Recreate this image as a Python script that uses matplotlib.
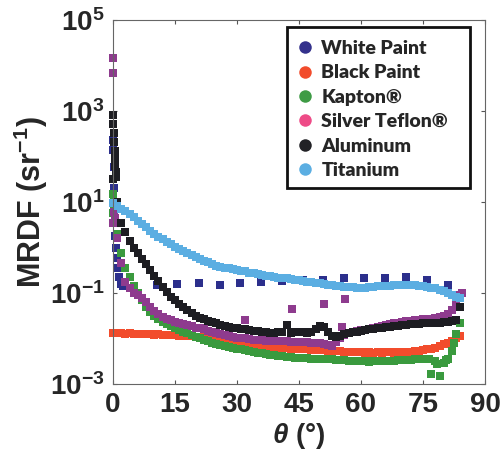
import matplotlib
matplotlib.use("Agg")
import matplotlib.pyplot as plt
from matplotlib.lines import Line2D
from matplotlib.patches import Rectangle

plt.rcParams["font.family"] = ["Liberation Sans", "DejaVu Sans"]
plt.rcParams["mathtext.fontset"] = "custom"
plt.rcParams["mathtext.rm"] = "Liberation Sans:bold"
plt.rcParams["mathtext.bf"] = "Liberation Sans:bold"
plt.rcParams["mathtext.it"] = "Liberation Sans:bold:italic"

# scan angles (deg) for the continuous measurements
THETA = list(range(85))

TITANIUM = [9.5, 8.3, 7.2, 6.3, 5.4, 4.6, 3.9, 3.3, 2.8, 2.3,
            2.0, 1.7, 1.5, 1.3, 1.17, 1.05, 0.93, 0.85, 0.76, 0.69,
            0.62, 0.56, 0.51, 0.47, 0.43, 0.40, 0.38, 0.36, 0.35, 0.34,
            0.32, 0.31, 0.30, 0.28, 0.27, 0.26, 0.25, 0.24, 0.234, 0.224,
            0.219, 0.214, 0.209, 0.20, 0.195, 0.19, 0.186, 0.178, 0.174, 0.166,
            0.162, 0.158, 0.151, 0.148, 0.145, 0.141, 0.138, 0.135, 0.135, 0.132,
            0.132, 0.132, 0.135, 0.138, 0.141, 0.141, 0.145, 0.145, 0.148, 0.148,
            0.151, 0.151, 0.151, 0.148, 0.145, 0.141, 0.138, 0.132, 0.126, 0.117,
            0.110, 0.100, 0.091, 0.083, 0.076]

BLACK_PAINT = [0.0132, 0.0129, 0.0132, 0.0126, 0.0129, 0.0126, 0.0126, 0.0123, 0.0126, 0.0123,
               0.0120, 0.0123, 0.0120, 0.0117, 0.0120, 0.0117, 0.0115, 0.0115, 0.0112, 0.0112,
               0.0110, 0.0107, 0.0105, 0.0100, 0.0095, 0.0093, 0.0089, 0.0087, 0.0083, 0.0081,
               0.0079, 0.0078, 0.0076, 0.0074, 0.0072, 0.0071, 0.0069, 0.0068, 0.0066, 0.0065,
               0.0063, 0.0063, 0.0062, 0.0060, 0.0060, 0.0059, 0.0058, 0.0058, 0.0056, 0.0056,
               0.0055, 0.0055, 0.0054, 0.0054, 0.0052, 0.0052, 0.0051, 0.0051, 0.0050, 0.0050,
               0.0050, 0.0049, 0.0050, 0.0049, 0.0050, 0.0049, 0.0050, 0.0050, 0.0049, 0.0050,
               0.0050, 0.0051, 0.0051, 0.0052, 0.0054, 0.0056, 0.0058, 0.0060, 0.0063, 0.0068,
               0.0074, 0.0079, 0.0089, 0.0100, 0.0112]

KAPTON = [5.6, 2.0, 0.74, 0.355, 0.224, 0.141, 0.100, 0.071, 0.050, 0.038,
          0.0316, 0.0269, 0.0234, 0.0209, 0.0186, 0.0170, 0.0155, 0.0141, 0.0129, 0.0117,
          0.0107, 0.0100, 0.0093, 0.0087, 0.0081, 0.0076, 0.0072, 0.0069, 0.0066, 0.0063,
          0.0060, 0.0058, 0.0055, 0.0052, 0.0050, 0.0049, 0.0047, 0.0046, 0.0044, 0.0043,
          0.0042, 0.0041, 0.0040, 0.0039, 0.0038, 0.0038, 0.0037, 0.0037, 0.0036, 0.0036,
          0.0035, 0.0035, 0.0035, 0.0035, 0.0034, 0.0033, 0.0033, 0.0032, 0.0032, 0.0032,
          0.0032, 0.0032, 0.0031, 0.0032, 0.0032, 0.0032, 0.0032, 0.0032, 0.0032, 0.0033,
          0.0033, 0.0034, 0.0034, 0.0035, 0.0035, 0.0035, 0.0035, 0.0017, 0.0032, 0.0015,
          0.0029, 0.0035, 0.0054, 0.0126, 0.0224]

SILVER_TEFLON = [3.5, 1.6, 0.45, 0.178, 0.126, 0.100, 0.089, 0.079, 0.063, 0.050,
                 0.040, 0.034, 0.030, 0.0275, 0.0250, 0.0234, 0.0219, 0.0209, 0.0200, 0.0186,
                 0.0174, 0.0166, 0.0158, 0.0148, 0.0141, 0.0132, 0.0126, 0.0117, 0.0112, 0.0107,
                 0.0105, 0.0102, 0.0100, 0.0098, 0.0095, 0.0093, 0.0091, 0.0089, 0.0089, 0.0089,
                 0.0087, 0.0087, 0.0087, 0.0085, 0.0085, 0.0085, 0.0083, 0.0083, 0.0081, 0.0079,
                 0.0079, 0.0076, 0.0072, 0.0071, 0.0085, 0.0100, 0.0120, 0.0130, 0.0138, 0.0145,
                 0.0150, 0.0155, 0.0162, 0.0170, 0.0178, 0.0186, 0.0195, 0.0204, 0.0214, 0.0224,
                 0.0234, 0.0240, 0.0245, 0.0250, 0.0257, 0.0263, 0.0270, 0.0275, 0.0285, 0.0295,
                 0.0310, 0.0340, 0.0420, 0.056, 0.089]

ALUMINUM = [31.6, 10.0, 3.5, 2.2, 1.4, 1.0, 0.76, 0.56, 0.43, 0.32,
            0.24, 0.18, 0.138, 0.105, 0.083, 0.069, 0.058, 0.049, 0.042, 0.036,
            0.0316, 0.0288, 0.0263, 0.0245, 0.0229, 0.0214, 0.0200, 0.0190, 0.0182, 0.0174,
            0.0166, 0.0162, 0.0158, 0.0151, 0.0148, 0.0145, 0.0141, 0.0138, 0.0135, 0.0135,
            0.0138, 0.0138, 0.0200, 0.0132, 0.0138, 0.0141, 0.0138, 0.0132, 0.0138, 0.0158,
            0.0190, 0.0178, 0.0141, 0.0112, 0.0107, 0.0115, 0.0126, 0.0132, 0.0138, 0.0141,
            0.0145, 0.0151, 0.0158, 0.0162, 0.0166, 0.0174, 0.0178, 0.0182, 0.0186, 0.0190,
            0.0195, 0.0200, 0.0204, 0.0209, 0.0209, 0.0214, 0.0214, 0.0219, 0.0219, 0.0224,
            0.0229, 0.0234, 0.0240, 0.0250, 0.048]

# near-specular points close to normal incidence
WHITE_SPEC_THETA = [0.0, 0.1, 0.2, 0.3, 0.4, 0.5, 0.6, 0.8, 1.0, 1.2, 1.5, 2.0, 2.5]
WHITE_SPEC = [230, 140, 60, 20, 8, 3.5, 1.8, 1.0, 0.6, 0.35, 0.22, 0.16, 0.14]
# white paint: coarse 5-degree scan
WHITE_THETA = [10.6, 15.4, 20.7, 25.8, 30.8, 35.9, 41.0, 46.0, 50.8, 55.9,
               60.7, 65.8, 70.8, 75.9, 81.0]
WHITE = [0.150, 0.158, 0.166, 0.150, 0.166, 0.174, 0.185, 0.193, 0.193, 0.214,
         0.214, 0.214, 0.225, 0.193, 0.150]

ALU_SPEC_THETA = [0.0, 0.1, 0.2, 0.3, 0.4, 0.5, 0.6, 0.7, 0.8]
ALU_SPEC = [800, 520, 330, 210, 135, 90, 62, 45, 36]

KAPTON_SPEC_THETA = [0.1, 0.2, 0.3]
KAPTON_SPEC = [15, 10, 7]
KAPTON_EXTRA_THETA = [76.5, 78.5, 80.5, 82.5]
KAPTON_EXTRA = [0.0036, 0.0028, 0.0033, 0.0080]

TEFLON_SPEC_THETA = [0.0, 0.0, 0.2, 0.4]
TEFLON_SPEC = [14500, 6800, 6.0, 4.5]
TEFLON_EXTRA_THETA = [32.0, 43.3, 51.0, 53.0, 55.3, 56.2, 84.5]
TEFLON_EXTRA = [0.025, 0.045, 0.058, 0.007, 0.018, 0.074, 0.10]

LABELS = ["White Paint", "Black Paint", "Kapton®", "Silver Teflon®",
          "Aluminum", "Titanium"]
DATA_COLORS = ["#2C2F8C", "#F24C2C", "#3A9A3E", "#8E3B8E", "#1D1D22", "#5BAEE2"]
LEGEND_COLORS = ["#34318C", "#F24C2C", "#3E9B45", "#EE4B87", "#222226", "#5BAEE2"]

fig = plt.figure(figsize=(5.01, 4.66), dpi=100)
ax = fig.add_axes([0.2255, 0.176, 0.7425, 0.781])

sq = dict(ls="none", marker="s", ms=6.3, mew=0, clip_on=False)

# white paint
ax.plot(WHITE_SPEC_THETA + WHITE_THETA, WHITE_SPEC + WHITE, color=DATA_COLORS[0], **sq)
# black paint
ax.plot(THETA, BLACK_PAINT, color=DATA_COLORS[1], **sq)
# kapton
ax.plot(KAPTON_SPEC_THETA + THETA + KAPTON_EXTRA_THETA,
        KAPTON_SPEC + KAPTON + KAPTON_EXTRA, color=DATA_COLORS[2], **sq)
# silver teflon
ax.plot(TEFLON_SPEC_THETA + THETA + TEFLON_EXTRA_THETA,
        TEFLON_SPEC + SILVER_TEFLON + TEFLON_EXTRA, color=DATA_COLORS[3], **sq)
# aluminum
ax.plot(ALU_SPEC_THETA + THETA, ALU_SPEC + ALUMINUM, color=DATA_COLORS[4], **sq)
# titanium
ax.plot(THETA, TITANIUM, color=DATA_COLORS[5], **sq)

ax.set_yscale("log")
ax.set_xlim(0, 90)
ax.set_ylim(1e-3, 1e5)
ax.set_xticks([0, 15, 30, 45, 60, 75, 90])
ax.set_yticks([1e-3, 1e-1, 1e1, 1e3, 1e5])
ax.set_yticklabels([r"$10^{-3}$", r"$10^{-1}$", r"$10^{1}$", r"$10^{3}$", r"$10^{5}$"])
ax.minorticks_off()
ax.tick_params(direction="in", length=3, width=0.8, top=True, right=True,
               labelsize=20, colors="#555555", labelcolor="#262626", pad=6)
for lbl in ax.get_xticklabels():
    lbl.set_fontweight("bold")
for sp in ax.spines.values():
    sp.set_color("#666666")
    sp.set_linewidth(0.8)

ax.set_ylabel(r"MRDF (sr$^{-1}$)", fontsize=22, fontweight="bold", color="#262626", labelpad=0)
ax.set_xlabel(r"$\theta$ (°)", fontsize=20, fontweight="bold", color="#262626", labelpad=2)

# legend entries without their own frame; the box is drawn separately
handles = [Line2D([], [], ls="none", marker="o", ms=9, mew=0, color=c) for c in LEGEND_COLORS]
leg = ax.legend(handles, LABELS, loc="upper left", bbox_to_anchor=(0.4946, 0.945),
                borderaxespad=0, borderpad=0, frameon=False,
                handlelength=0.8, handletextpad=0.45, labelspacing=0.38,
                prop=dict(family="Lato", weight="heavy", size=14))
for t in leg.get_texts():
    t.set_color("#262626")
ax.add_patch(Rectangle((0.468, 0.5385), 0.492, 0.4425, transform=ax.transAxes,
                       facecolor="white", edgecolor="#111111", linewidth=2,
                       zorder=4.9, clip_on=False))

fig.savefig("out.png", dpi=100)
